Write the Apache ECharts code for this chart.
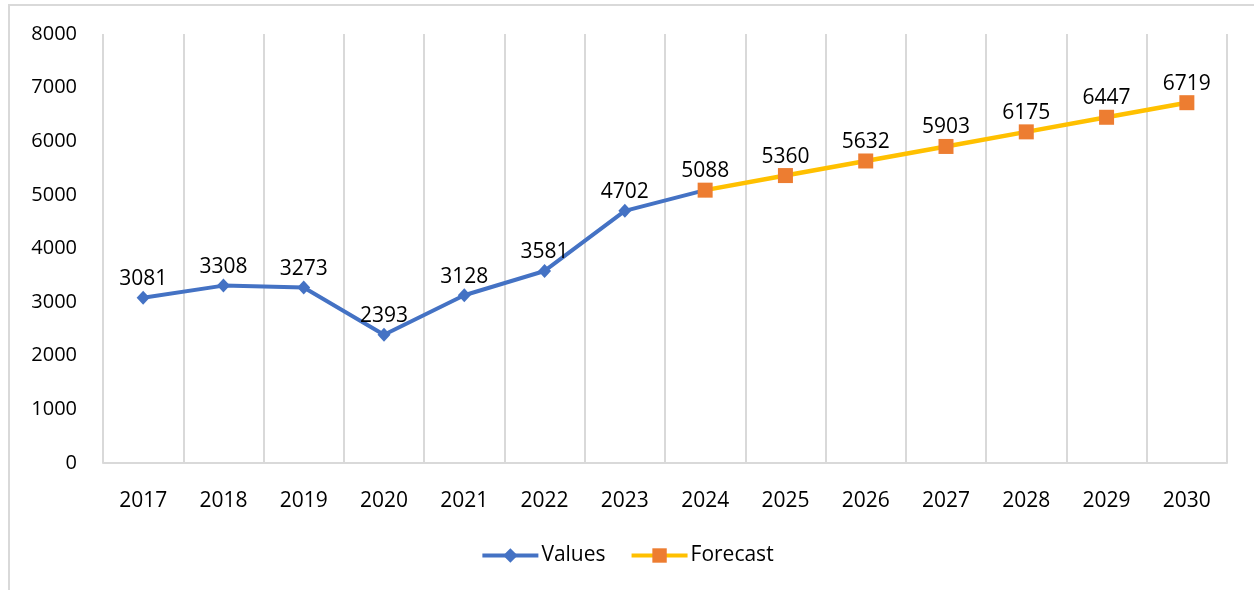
<!DOCTYPE html>
<html>
<head>
<meta charset="utf-8">
<script src="https://cdn.jsdelivr.net/npm/echarts@6/dist/echarts.min.js"></script>
<style>
  html, body { margin: 0; padding: 0; background: #fff; }
  #container1 { width: 1254px; height: 590px; }
</style>
</head>
<body>
<div id="container1"></div>
<script>
var years = ['2017', '2018', '2019', '2020', '2021', '2022', '2023', '2024', '2025', '2026', '2027', '2028', '2029', '2030'];
var values = [3081, 3308, 3273, 2393, 3128, 3581, 4702, 5088];
var forecast = [null, null, null, null, null, null, null, 5088, 5360, 5632, 5903, 6175, 6447, 6719];
var yTicks = [0, 1000, 2000, 3000, 4000, 5000, 6000, 7000, 8000];

var font = '"Open Sans", "Noto Sans", sans-serif';

var dom = document.getElementById('container1');
var myChart = echarts.init(dom);

// last blue point sits under the first orange square, its label belongs to forecast
var valueData = values.map(function (v, i) {
  if (i === values.length - 1) {
    return { value: v, label: { show: false } };
  }
  return v;
});

var option = {
  animation: false,
  textStyle: { fontFamily: font },
  graphic: [
    {
      type: 'rect',
      shape: { x: 9, y: 5, width: 1400, height: 800 },
      style: { fill: 'none', stroke: '#d9d9d9', lineWidth: 2 },
      silent: true
    }
  ],
  grid: { left: 103, right: 27, top: 34, bottom: 127 },
  legend: {
    bottom: 19,
    left: 'center',
    itemWidth: 56,
    itemHeight: 18,
    itemGap: 24,
    lineStyle: { width: 4 },
    textStyle: { fontFamily: font, fontSize: 21, color: '#000', padding: [0, 0, 0, -2] },
    data: ['Values', 'Forecast']
  },
  xAxis: {
    type: 'category',
    data: years,
    boundaryGap: true,
    axisLine: { lineStyle: { color: '#d9d9d9', width: 2 } },
    axisTick: { show: false },
    axisLabel: { fontFamily: font, fontSize: 21, color: '#000', margin: 28 },
    splitLine: { show: true, lineStyle: { color: '#d9d9d9', width: 2 } }
  },
  yAxis: {
    type: 'value',
    min: yTicks[0],
    max: yTicks[yTicks.length - 1],
    interval: 1000,
    axisLine: { show: false },
    axisTick: { show: false },
    splitLine: { show: false },
    axisLabel: {
      fontFamily: font, fontSize: 20, color: '#000', margin: 26,
      formatter: function (v) { return String(v); }
    }
  },
  series: [
    {
      name: 'Values',
      type: 'line',
      data: valueData,
      symbol: 'diamond',
      symbolSize: [13, 14],
      showAllSymbol: true,
      itemStyle: { color: '#4472C4' },
      lineStyle: { color: '#4472C4', width: 4 },
      label: { show: true, position: 'top', distance: 1, fontFamily: font, fontSize: 21, color: '#000' },
      z: 2
    },
    {
      name: 'Forecast',
      type: 'line',
      data: forecast,
      symbol: 'rect',
      symbolSize: 15,
      showAllSymbol: true,
      itemStyle: { color: '#ED7D31' },
      lineStyle: { color: '#FFC000', width: 4.5 },
      label: { show: true, position: 'top', distance: 1, fontFamily: font, fontSize: 21, color: '#000' },
      z: 3
    }
  ]
};

myChart.setOption(option);
</script>
</body>
</html>
